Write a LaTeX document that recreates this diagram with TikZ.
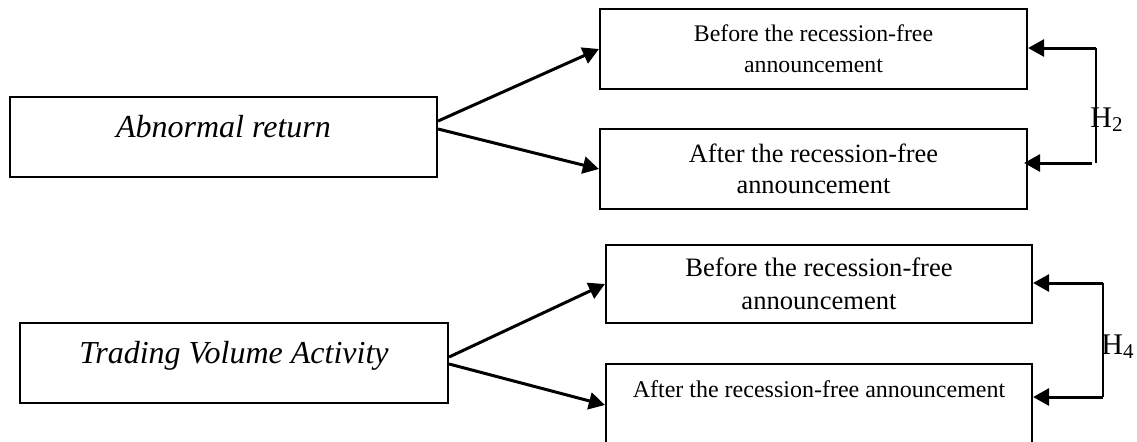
\documentclass[tikz,border=0pt]{standalone}
\usepackage{fontspec}
\setmainfont{Liberation Serif}
\usepackage{tikz}
\usetikzlibrary{arrows.meta,calc}
\tikzset{box/.style={draw, line width=1.1pt, inner sep=0pt, align=center}}
\tikzset{varbox/.style={box, minimum height=40pt, font=\fontsize{16}{19}\selectfont\itshape, text height=7pt, text depth=7pt}}
\tikzset{periodbox/.style={box, minimum width=213.5pt, minimum height=40pt}}
\tikzset{arc/.style={-{Triangle[length=8pt,width=8.5pt]}, line width=1.5pt}}
\tikzset{hyp/.style={anchor=base west, inner sep=0pt, font=\fontsize{15}{18}\selectfont}}

\begin{document}
\begin{tikzpicture}[x=0.5pt,y=-0.5pt]
\useasboundingbox (0,0) rectangle (1137,441);

\node (ar) at (223.5,137)[varbox, minimum width=213.5pt]{Abnormal return};
\node (tv) at (234,363)[varbox, minimum width=214pt]{Trading Volume Activity};

\node (arbefore) at (813.5,49)[periodbox, font=\fontsize{11.9}{15.5}\selectfont]{Before the recession-free\\announcement};
\node (arafter) at (813.5,169)[periodbox, font=\fontsize{13.2}{15.5}\selectfont]{After the recession-free\\announcement};
\node (tvbefore) at (819,284)[periodbox, minimum width=213pt, minimum height=39pt, font=\fontsize{13.3}{16.5}\selectfont]{Before the recession-free\\announcement};
\node (tvafter) at (819,405)[periodbox, minimum width=213pt, minimum height=41pt, font=\fontsize{12}{15}\selectfont, text height=9pt, text depth=17pt]{After the recession-free announcement};

\draw[arc] ([yshift=8pt]ar.east) -- (arbefore.west);
\draw[arc] ([yshift=4pt]ar.east) -- (arafter.west);
\draw[arc] ([yshift=3pt]tv.east) -- (tvbefore.west);
\draw[arc] ([yshift=-0.5pt]tv.east) -- (tvafter.west);

%now the hypothesis brackets
\coordinate (h2t) at (1096,48);
\coordinate (h2b) at (1096,163);
\coordinate (h4t) at (1103,283);
\coordinate (h4b) at (1103,397);

\draw[line width=1.1pt] (h2t) -- (h2b);
\draw[arc] (h2t) -- (h2t -| arbefore.east);
\draw[arc] ([xshift=-2pt]h2b) -- ([xshift=-2pt]h2b -| arafter.east);
\node (h2) at (1090,127)[hyp]{H\textsubscript{2}};

\draw[line width=1.1pt] (h4t) -- (h4b);
\draw[arc] (h4t) -- (h4t -| tvbefore.east);
\draw[arc] (h4b) -- (h4b -| tvafter.east);
\node (h4) at (1101,354)[hyp]{H\textsubscript{4}};

\end{tikzpicture}
\end{document}
